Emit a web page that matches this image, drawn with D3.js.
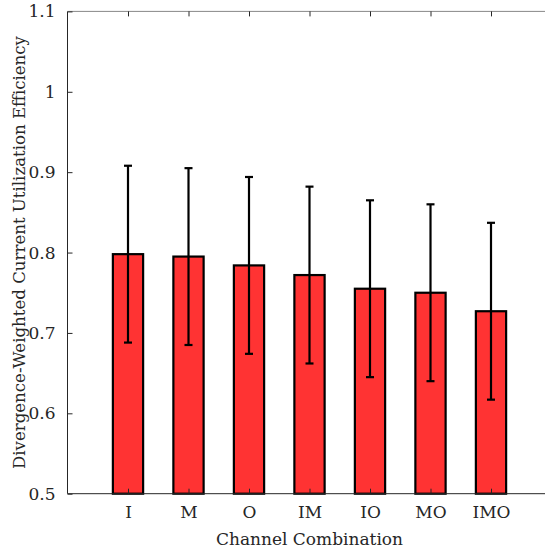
<!DOCTYPE html>
<html><head><meta charset="utf-8">
<script src="https://cdn.jsdelivr.net/npm/d3@7"></script>
<style>body{margin:0;background:#fff}svg{display:block}</style>
</head><body><div id="c"></div>
<script>
const categories = ["I","M","O","IM","IO","MO","IMO"];
const means = [0.798, 0.795, 0.784, 0.772, 0.755, 0.750, 0.727];
const errors = [0.110, 0.110, 0.110, 0.110, 0.110, 0.110, 0.110];
const yTicks = [0.5, 0.6, 0.7, 0.8, 0.9, 1, 1.1];
const xLabel = "Channel Combination";
const yLabel = "Divergence-Weighted Current Utilization Efficiency";

const W = 545, H = 552;
const FONT = "DejaVu Serif";
const svg = d3.select("#c").append("svg").attr("width", W).attr("height", H)
  .style("font-family", FONT);
const x = d3.scaleLinear().domain([0, categories.length + 1]).range([67.5, 551.5]);
const y = d3.scaleLinear().domain([0.5, 1.1]).range([493.7, 11.4]);
const fs = 17;
const axisCol = "#262626";
const bw = (x(1) - x(0)) * 0.5;

svg.append("g").selectAll("rect").data(means).join("rect")
  .attr("x", (d, i) => x(i + 1) - bw / 2)
  .attr("y", d => y(d))
  .attr("width", bw)
  .attr("height", d => y(0.5) - y(d))
  .attr("fill", "#ff3333").attr("stroke", "#000").attr("stroke-width", 2.2);

const eg = svg.append("g").attr("stroke", "#000").attr("stroke-width", 2.2);
means.forEach((m, i) => {
  const cx = x(i + 1);
  const e = errors[i];
  eg.append("line").attr("x1", cx).attr("x2", cx).attr("y1", y(m - e)).attr("y2", y(m + e));
  eg.append("line").attr("x1", cx - 4).attr("x2", cx + 4).attr("y1", y(m - e)).attr("y2", y(m - e));
  eg.append("line").attr("x1", cx - 4).attr("x2", cx + 4).attr("y1", y(m + e)).attr("y2", y(m + e));
});

const ag = svg.append("g").attr("stroke", axisCol).attr("stroke-width", 1).attr("fill", "none");
ag.append("line").attr("x1", x(0)).attr("x2", x(0)).attr("y1", y(0.5)).attr("y2", y(1.1));
ag.append("line").attr("x1", x(0)).attr("x2", x(categories.length + 1)).attr("y1", y(0.5)).attr("y2", y(0.5));
ag.append("line").attr("x1", x(0)).attr("x2", x(categories.length + 1)).attr("y1", y(1.1)).attr("y2", y(1.1)).attr("stroke", "#888");

const yAxis = d3.axisLeft(y).tickValues(yTicks).tickSizeInner(-5).tickSizeOuter(0).tickPadding(12)
  .tickFormat(d => d3.format("")(d));
const ya = svg.append("g").attr("transform", `translate(${x(0)},0)`).call(yAxis)
  .attr("font-family", FONT).attr("font-size", fs);
ya.select(".domain").remove();
ya.selectAll("line").attr("stroke", axisCol);
ya.selectAll("text").attr("fill", axisCol);

const xAxis = d3.axisBottom(x).tickValues(d3.range(1, categories.length + 1)).tickSizeInner(-5).tickSizeOuter(0).tickPadding(12)
  .tickFormat(d => categories[d - 1]);
const xa = svg.append("g").attr("transform", `translate(0,${y(0.5)})`).call(xAxis)
  .attr("font-family", FONT).attr("font-size", fs);
xa.select(".domain").remove();
xa.selectAll("line").attr("stroke", axisCol);
xa.selectAll("text").attr("fill", axisCol);

const xt = svg.append("g").attr("transform", `translate(0,${y(1.1)})`)
  .call(d3.axisTop(x).tickValues(d3.range(1, categories.length + 1)).tickSizeInner(-5).tickSizeOuter(0).tickFormat(""));
xt.select(".domain").remove();
xt.selectAll("line").attr("stroke", axisCol);

svg.append("text").attr("x", (x(0) + x(categories.length + 1)) / 2).attr("y", 545)
  .attr("text-anchor", "middle").attr("font-size", fs).attr("font-family", FONT).attr("fill", axisCol).text(xLabel);
svg.append("text").attr("transform", `translate(25,${(y(0.5) + y(1.1)) / 2}) rotate(-90)`)
  .attr("text-anchor", "middle").attr("font-size", 16.6).attr("font-family", FONT).attr("fill", axisCol).text(yLabel);
</script></body></html>
